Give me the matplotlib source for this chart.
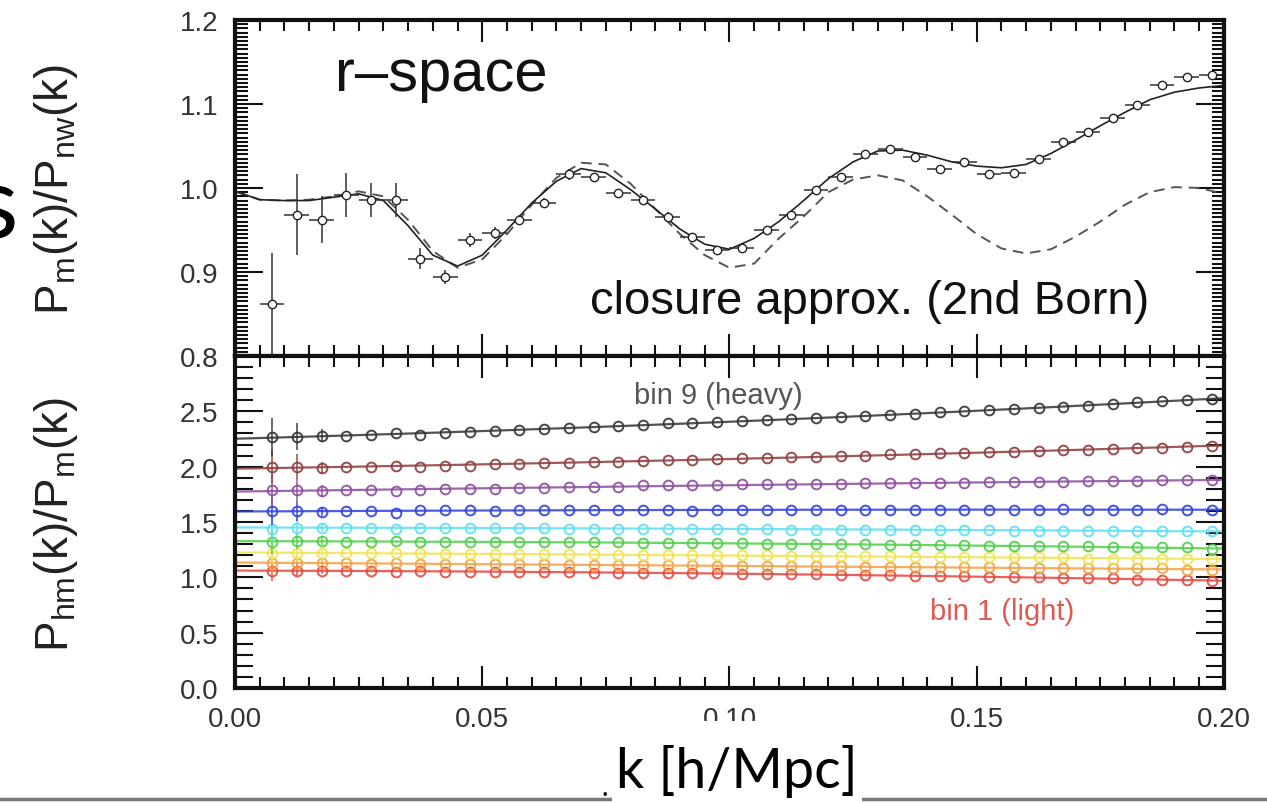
import numpy as np
import matplotlib.pyplot as plt
from matplotlib.ticker import MultipleLocator, FormatStrFormatter, FuncFormatter
from matplotlib.patches import Rectangle
from matplotlib.lines import Line2D

plt.rcParams['font.family'] = ['Liberation Sans', 'DejaVu Sans']
plt.rcParams['mathtext.fontset'] = 'custom'
plt.rcParams['mathtext.rm'] = 'Liberation Sans'
plt.rcParams['mathtext.it'] = 'Liberation Sans'

# центры бинов по k [h/Mpc]
k_pts = [0.0075, 0.0125, 0.0175, 0.0225, 0.0275, 0.0325, 0.0375, 0.0425, 0.0475, 0.0525,
         0.0575, 0.0625, 0.0675, 0.0725, 0.0775, 0.0825, 0.0875, 0.0925, 0.0975, 0.1025,
         0.1075, 0.1125, 0.1175, 0.1225, 0.1275, 0.1325, 0.1375, 0.1425, 0.1475, 0.1525,
         0.1575, 0.1625, 0.1675, 0.1725, 0.1775, 0.1825, 0.1875, 0.1925, 0.1975]

# P_m/P_nw из симуляций
ratio_sim = [0.862, 0.968, 0.962, 0.992, 0.986, 0.986, 0.916, 0.894, 0.938, 0.946,
             0.962, 0.982, 1.016, 1.013, 0.994, 0.986, 0.966, 0.942, 0.926, 0.929,
             0.950, 0.968, 0.998, 1.013, 1.040, 1.046, 1.037, 1.023, 1.031, 1.016,
             1.018, 1.035, 1.055, 1.067, 1.083, 1.099, 1.122, 1.132, 1.135]
ratio_err = [0.060, 0.048, 0.028, 0.026, 0.020, 0.020, 0.012, 0.008, 0.008, 0.007,
             0.006, 0.006, 0.006, 0.005, 0.005, 0.005, 0.005, 0.004, 0.004, 0.004,
             0.004, 0.004, 0.004, 0.004, 0.003, 0.003, 0.003, 0.003, 0.003, 0.003,
             0.003, 0.003, 0.003, 0.003, 0.003, 0.003, 0.003, 0.003, 0.003]

# теоретические кривые
k_curve = [0.000, 0.005, 0.010, 0.015, 0.020, 0.025, 0.030, 0.035, 0.040, 0.045,
           0.050, 0.055, 0.060, 0.065, 0.070, 0.075, 0.080, 0.085, 0.090, 0.095,
           0.100, 0.105, 0.110, 0.115, 0.120, 0.125, 0.130, 0.135, 0.140, 0.145,
           0.150, 0.155, 0.160, 0.165, 0.170, 0.175, 0.180, 0.185, 0.190, 0.195, 0.200]
ratio_closure = [0.996, 0.986, 0.985, 0.985, 0.989, 0.993, 0.985, 0.955, 0.920, 0.907,
                 0.920, 0.950, 0.982, 1.008, 1.023, 1.018, 0.998, 0.975, 0.951, 0.933,
                 0.927, 0.940, 0.960, 0.985, 1.011, 1.031, 1.044, 1.045, 1.039, 1.031,
                 1.026, 1.024, 1.028, 1.041, 1.057, 1.074, 1.090, 1.105, 1.114, 1.119, 1.122]
ratio_linear = [0.996, 0.986, 0.985, 0.986, 0.990, 0.996, 0.990, 0.962, 0.925, 0.905,
                0.915, 0.945, 0.980, 1.012, 1.030, 1.028, 1.005, 0.975, 0.945, 0.920,
                0.905, 0.910, 0.940, 0.966, 0.995, 1.010, 1.015, 1.009, 0.990, 0.968,
                0.945, 0.928, 0.922, 0.927, 0.942, 0.960, 0.980, 0.995, 1.001, 1.000, 0.993]

# P_hm/P_m по бинам масс гало (1 - лёгкие, 9 - тяжёлые)
bias_bin1 = [1.06, 1.06, 1.06, 1.06, 1.06, 1.05, 1.06, 1.05, 1.05, 1.05,
             1.05, 1.05, 1.05, 1.04, 1.04, 1.04, 1.04, 1.04, 1.04, 1.03,
             1.03, 1.03, 1.03, 1.02, 1.02, 1.02, 1.01, 1.01, 1.01, 1.00,
             1.00, 1.00, 0.99, 0.99, 0.99, 0.98, 0.98, 0.98, 0.97]
bias_bin2 = [1.13, 1.13, 1.13, 1.13, 1.12, 1.13, 1.12, 1.12, 1.12, 1.12,
             1.12, 1.12, 1.11, 1.11, 1.11, 1.11, 1.11, 1.11, 1.10, 1.10,
             1.10, 1.10, 1.10, 1.10, 1.09, 1.09, 1.09, 1.09, 1.09, 1.09,
             1.09, 1.08, 1.08, 1.08, 1.08, 1.08, 1.08, 1.07, 1.07]
bias_bin3 = [1.22, 1.22, 1.22, 1.22, 1.22, 1.22, 1.22, 1.21, 1.21, 1.21,
             1.21, 1.21, 1.21, 1.21, 1.20, 1.20, 1.20, 1.20, 1.20, 1.20,
             1.20, 1.19, 1.19, 1.19, 1.19, 1.19, 1.18, 1.18, 1.18, 1.18,
             1.18, 1.18, 1.18, 1.17, 1.17, 1.17, 1.17, 1.17, 1.17]
bias_bin4 = [1.32, 1.33, 1.33, 1.32, 1.32, 1.33, 1.32, 1.32, 1.32, 1.32,
             1.32, 1.32, 1.32, 1.32, 1.32, 1.31, 1.31, 1.31, 1.31, 1.31,
             1.30, 1.30, 1.30, 1.30, 1.30, 1.29, 1.29, 1.29, 1.29, 1.28,
             1.28, 1.28, 1.28, 1.28, 1.27, 1.27, 1.27, 1.27, 1.26]
bias_bin5 = [1.44, 1.45, 1.45, 1.45, 1.45, 1.44, 1.45, 1.45, 1.45, 1.45,
             1.45, 1.45, 1.44, 1.44, 1.44, 1.44, 1.44, 1.44, 1.44, 1.44,
             1.44, 1.43, 1.43, 1.43, 1.43, 1.43, 1.43, 1.43, 1.43, 1.43,
             1.42, 1.42, 1.42, 1.42, 1.42, 1.42, 1.42, 1.42, 1.42]
bias_bin6 = [1.60, 1.60, 1.59, 1.60, 1.60, 1.58, 1.61, 1.61, 1.61, 1.60,
             1.61, 1.61, 1.61, 1.61, 1.61, 1.61, 1.61, 1.60, 1.61, 1.61,
             1.61, 1.61, 1.61, 1.61, 1.61, 1.61, 1.61, 1.61, 1.61, 1.61,
             1.61, 1.61, 1.62, 1.61, 1.61, 1.61, 1.62, 1.61, 1.61]
bias_bin7 = [1.79, 1.79, 1.78, 1.79, 1.79, 1.78, 1.79, 1.80, 1.80, 1.80,
             1.81, 1.81, 1.82, 1.82, 1.82, 1.83, 1.83, 1.83, 1.83, 1.84,
             1.84, 1.84, 1.84, 1.84, 1.85, 1.85, 1.85, 1.85, 1.85, 1.86,
             1.86, 1.86, 1.86, 1.87, 1.87, 1.87, 1.88, 1.88, 1.88]
bias_bin8 = [2.00, 2.00, 1.99, 2.00, 2.00, 2.01, 2.00, 2.01, 2.01, 2.02,
             2.02, 2.03, 2.03, 2.04, 2.04, 2.05, 2.06, 2.06, 2.07, 2.08,
             2.08, 2.09, 2.09, 2.10, 2.10, 2.11, 2.11, 2.12, 2.12, 2.13,
             2.13, 2.14, 2.15, 2.15, 2.16, 2.17, 2.17, 2.18, 2.19]
bias_bin9 = [2.27, 2.27, 2.28, 2.28, 2.29, 2.30, 2.29, 2.30, 2.31, 2.32,
             2.33, 2.34, 2.35, 2.36, 2.37, 2.38, 2.39, 2.39, 2.40, 2.41,
             2.42, 2.43, 2.44, 2.45, 2.46, 2.47, 2.48, 2.49, 2.50, 2.51,
             2.52, 2.53, 2.54, 2.55, 2.57, 2.58, 2.59, 2.60, 2.61]
# ошибки первых трёх точек (дальше они меньше маркеров)
bias_err_lowk = [[0.09, 0.06, 0.03], [0.09, 0.06, 0.03], [0.10, 0.07, 0.03],
                 [0.11, 0.07, 0.04], [0.12, 0.08, 0.04], [0.13, 0.09, 0.04],
                 [0.14, 0.10, 0.05], [0.15, 0.11, 0.05], [0.17, 0.12, 0.06]]
bias_list = [bias_bin1, bias_bin2, bias_bin3, bias_bin4, bias_bin5,
             bias_bin6, bias_bin7, bias_bin8, bias_bin9]
bin_colors = ['#e8453c', '#f3a040', '#f0e44c', '#4ccf48', '#5ae0ef',
              '#2f3fe0', '#8c4c9e', '#8e3b3b', '#333333']

fig = plt.figure(figsize=(12.67, 8.04), dpi=100)
ax1 = fig.add_axes([0.1855, 0.556, 0.7805, 0.418])
ax2 = fig.add_axes([0.1855, 0.143, 0.7805, 0.413])

# верхняя панель
ax1.plot(k_curve, ratio_linear, color='#555555', lw=1.4, dashes=(5.5, 3.5))
ax1.plot(k_curve, ratio_closure, color='#222222', lw=1.2)
ax1.errorbar(k_pts, ratio_sim, xerr=0.0025, yerr=ratio_err, fmt='o', ms=6,
             mfc='white', mec='#222222', mew=1.0, ecolor='#333333',
             elinewidth=1.1, capsize=0)
ax1.text(0.0203, 1.135, 'r\u2013space', fontsize=43, color='#111111',
         ha='left', va='center')
ax1.text(0.1848, 0.866, 'closure approx. (2nd Born)', fontsize=34,
         color='#111111', ha='right', va='center')

# нижняя панель
k_fine = np.linspace(0, 0.2, 200)
for vals, err, c in zip(bias_list, bias_err_lowk, bin_colors):
    fit = np.polyfit(k_pts, vals, 2)
    ax2.plot(k_fine, np.polyval(fit, k_fine), color=c, lw=1.6, alpha=0.85)
    ax2.errorbar(k_pts[:3], vals[:3], yerr=err, fmt='none', ecolor=c,
                 elinewidth=1.2, alpha=0.85)
    ax2.plot(k_pts, vals, 'o', ms=7, mfc='none', mec=c, mew=1.4, alpha=0.9)
ax2.text(0.0977, 2.65, 'bin 9 (heavy)', fontsize=21, color='#555555',
         ha='center', va='center')
ax2.text(0.1552, 0.695, 'bin 1 (light)', fontsize=21, color='#e05a55',
         ha='center', va='center')

for ax in (ax1, ax2):
    ax.set_xlim(0, 0.2)
    ax.xaxis.set_major_locator(MultipleLocator(0.05))
    ax.xaxis.set_minor_locator(MultipleLocator(0.005))
    ax.tick_params(which='both', direction='in', top=True, right=True,
                   width=1.5, color='#111111', labelcolor='#333333',
                   labelsize=20)
    ax.tick_params(axis='x', which='major', length=16, pad=13)
    ax.tick_params(axis='x', which='minor', length=8)
    for sp in ax.spines.values():
        sp.set_linewidth(3)
        sp.set_color('#111111')

ax1.set_ylim(0.8, 1.2)
ax1.yaxis.set_major_locator(MultipleLocator(0.1))
ax1.yaxis.set_minor_locator(MultipleLocator(0.005))
ax1.yaxis.set_major_formatter(FormatStrFormatter('%.1f'))
ax1.tick_params(axis='y', which='major', length=20, pad=12)
ax1.tick_params(axis='y', which='minor', length=9)
ax1.tick_params(axis='x', labelbottom=False)

ax2.set_ylim(0, 3.0)
ax2.yaxis.set_major_locator(MultipleLocator(0.5))
ax2.yaxis.set_minor_locator(MultipleLocator(0.1))
ax2.yaxis.set_major_formatter(FuncFormatter(lambda v, p: '' if v > 2.9 else '%.1f' % v))
ax2.xaxis.set_major_formatter(FormatStrFormatter('%.2f'))
ax2.tick_params(axis='y', which='major', length=20, pad=12)
ax2.tick_params(axis='y', which='minor', length=13)

fig.text(0.044, 0.764, r'P$_\mathrm{m}$(k)/P$_\mathrm{nw}$(k)', rotation=90,
         fontsize=33, color='#222222', ha='center', va='center')
fig.text(0.044, 0.347, r'P$_\mathrm{hm}$(k)/P$_\mathrm{m}$(k)', rotation=90,
         fontsize=33, color='#222222', ha='center', va='center')

# остатки слайда: буква заголовка, линия внизу, подпись оси
fig.text(18 / 1267, 1 - 238 / 804, 's', fontsize=72, family='Lato',
         color='black', ha='right', va='baseline')
fig.add_artist(Line2D([0, 1], [4 / 804, 4 / 804], color='#777777', lw=2.5,
                      zorder=1))
fig.add_artist(Rectangle((612 / 1267, 0), 250 / 1267, 82 / 804,
                         transform=fig.transFigure, facecolor='white',
                         edgecolor='none', zorder=5))
fig.text(605 / 1267, 8 / 804, '.', fontsize=20, family='Lato', color='black',
         ha='center', va='baseline', zorder=6)
fig.text(737 / 1267, 0.04, 'k [h/Mpc]', fontsize=40, family='Lato',
         color='black', ha='center', va='center', zorder=6)

plt.savefig('out.png', dpi=100)
